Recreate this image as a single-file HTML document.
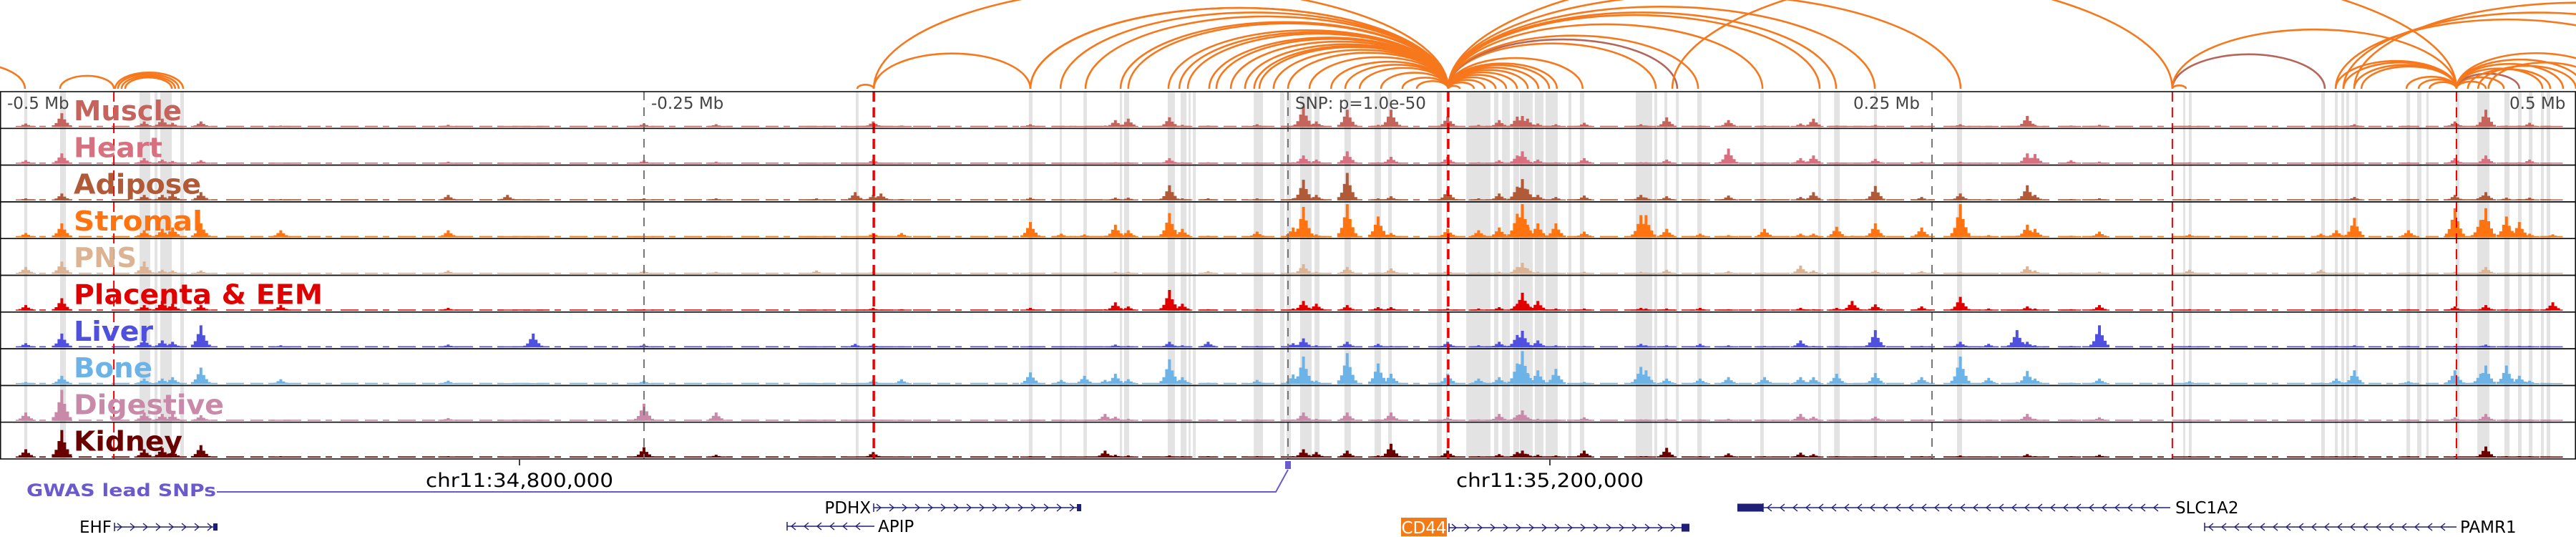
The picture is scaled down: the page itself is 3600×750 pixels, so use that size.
<!DOCTYPE html>
<html><head><meta charset="utf-8"><style>
html,body{margin:0;padding:0;background:#fff;width:3600px;height:750px;overflow:hidden}
svg{display:block}
text{font-family:"DejaVu Sans","Liberation Sans",sans-serif}
</style></head><body>
<svg id="fig" xmlns="http://www.w3.org/2000/svg" width="3600" height="750" viewBox="0 0 3600 750">
<g id="arcs"></g>
<g id="bands"></g>
<g id="signals"></g>
<g id="marks"></g>
<g id="frames"></g>
<g id="labels"></g>
<g id="scale">
<text x="10" y="152" font-size="23" fill="#444">-0.5 Mb</text>
<text x="910" y="152" font-size="23" fill="#444">-0.25 Mb</text>
<text x="1810" y="152" font-size="23" fill="#444">SNP: p=1.0e-50</text>
<text x="2590" y="152" font-size="23" fill="#444">0.25 Mb</text>
<text x="3507" y="152" font-size="23" fill="#444">0.5 Mb</text>
</g>
<g id="coords">
<line x1="726" y1="642" x2="726" y2="650" stroke="#000" stroke-width="1.5"/>
<text x="726" y="680" font-size="27" text-anchor="middle" textLength="262" lengthAdjust="spacingAndGlyphs">chr11:34,800,000</text>
<line x1="2166" y1="642" x2="2166" y2="650" stroke="#000" stroke-width="1.5"/>
<text x="2166" y="680" font-size="27" text-anchor="middle" textLength="262" lengthAdjust="spacingAndGlyphs">chr11:35,200,000</text>
</g>
<g id="gwas">
<text x="37" y="693" font-size="24" font-weight="bold" fill="#6a5acd" textLength="265" lengthAdjust="spacingAndGlyphs">GWAS lead SNPs</text>
<polyline points="303,687 1783,687 1800,656" fill="none" stroke="#6a5acd" stroke-width="2"/>
<rect x="1796" y="644" width="8" height="11" fill="#6a5acd"/>
</g>
<g id="genes"></g>
</svg>
<script>
// ---- data (window coordinates in kb, 0..1000 across the view) ----
const tissueNames = ['Muscle','Heart','Adipose','Stromal','PNS','Placenta & EEM','Liver','Bone','Digestive','Kidney'];
const tissueColors = ['#c4645c','#d8707f','#b05a38','#ff7410','#dcb494','#e00000','#4f4fe0','#6cb4e8','#c88aa8','#6a0000'];
const labelWidths = [151,124,178,180,88,348,111,110,210,152];
const peakPos = [10,24,56,63,67,78,109,174,197,207,250,278,317,332,339,342,350,400,412,421,429,433,438,454,459,469,488,502,506,511,523,535,540,562,574,582,589,591,593,597,604,615,637,639,647,660,671,685,699,704,713,719,728,746,761,772,783,787,790,804,815,850,901,907,914,935,953,963,965,973,978,982,991];
const muscleSignal =   [5,20,8,12,6,8,2,3,1,1,5,4,1,1,8,1,2,4,1,1,2,10,12,14,3,2,4,2,30,8,25,3,25,15,3,10,15,16,12,5,4,6,4,2,14,2,10,2,5,12,2,1,3,2,4,1,1,16,3,2,3,2,1,2,4,2,8,2,25,2,2,6,1];
const heartSignal =    [5,15,8,6,4,5,1,3,1,1,5,3,1,1,6,1,1,1,1,1,1,2,2,8,2,2,2,2,12,6,18,2,10,10,2,5,12,18,5,6,2,8,2,2,6,2,22,2,8,12,2,1,7,3,3,1,1,15,14,5,3,2,1,2,2,2,8,2,12,2,2,6,1];
const adiposeSignal =  [3,10,8,8,10,12,2,8,8,1,3,3,3,12,8,10,2,4,1,1,1,4,4,22,3,3,3,3,30,8,40,3,6,15,3,10,20,31,16,8,5,7,8,4,6,2,7,2,5,12,2,1,21,5,10,2,1,22,8,2,3,2,1,2,5,2,8,5,12,4,2,4,1];
const stromalSignal =  [6,20,10,12,14,20,10,10,1,1,2,1,1,1,6,1,6,22,5,4,2,18,10,35,12,2,8,14,44,4,48,30,6,12,10,14,34,48,18,20,20,8,32,32,12,5,3,12,5,5,15,2,20,14,48,3,2,18,12,2,8,4,5,10,28,10,42,25,42,30,22,5,4];
const pnsSignal =      [10,18,18,6,5,5,1,5,1,1,5,3,5,1,3,1,1,2,1,1,1,3,3,2,2,4,2,2,14,3,10,2,8,5,2,3,10,16,8,3,2,3,3,2,6,2,4,2,12,5,2,1,5,4,3,1,1,11,5,2,3,6,6,2,2,2,3,2,10,2,2,2,1];
const placentaSignal = [8,18,8,14,10,8,8,4,1,1,2,1,1,1,4,1,2,4,1,1,2,12,6,30,10,2,2,3,14,10,8,5,5,3,3,5,10,26,10,14,3,3,4,3,3,4,2,2,4,2,4,14,9,6,20,3,1,6,3,2,8,2,1,2,2,2,6,2,8,2,2,2,12];
const liverSignal =    [6,20,12,10,8,32,3,4,1,20,4,1,1,5,4,1,1,2,1,1,1,4,2,8,3,8,2,6,13,3,8,5,2,8,3,8,18,24,6,10,3,2,5,3,3,5,3,2,10,2,2,1,25,2,8,5,25,8,3,2,32,2,1,2,3,2,2,2,4,2,2,2,1];
const boneSignal =     [3,12,8,8,10,24,7,5,1,1,5,1,1,1,6,1,7,17,6,12,6,15,7,36,10,2,6,14,40,5,45,30,15,15,8,10,30,48,16,20,22,3,25,20,8,8,10,10,10,10,15,1,16,10,40,9,3,19,8,2,8,4,2,8,20,4,20,15,27,27,12,5,1];
const digestiveSignal =[12,45,12,10,10,8,1,4,1,1,25,12,1,1,3,1,1,2,1,1,10,6,3,2,2,2,2,2,12,3,12,2,12,5,2,10,8,15,5,3,2,5,2,2,3,2,3,2,10,6,2,1,6,2,3,1,1,10,3,2,5,2,1,2,2,2,5,2,10,2,2,2,1];
const kidneySignal =   [12,40,12,14,10,18,2,2,1,1,15,4,1,1,8,1,1,2,1,1,10,4,3,3,2,2,2,2,12,8,10,3,20,10,2,5,8,10,5,4,3,10,2,2,14,2,6,2,7,5,2,1,2,2,3,1,1,5,2,2,4,2,1,2,2,2,2,2,16,2,2,2,1];
const bandStarts = [9.4,23.3,54.2,60,62.2,70,332.2,399.4,411.4,420.6,434.7,436.4,453.3,458.3,461.4,463.1,486.7,496.9,499.4,504.7,510.3,521.9,533.6,538.9,557.8,561.4,569.2,580,583.1,587.5,590,595.8,600,608.9,613.3,635,642.2,646.1,650.6,658.9,683.3,705.8,712,727.5,759.7,847.5,849.7,901.1,906.4,908.9,910.8,914.2,934.2,938.3,941.9,953.3,961.7,972.2,977.5,981.7,986.4,988.6];
const bandEnds =   [10.6,25.6,58.3,61.1,66.7,71.4,333.3,400.8,412.2,421.9,435.6,438.3,456.1,460.6,462.2,464.2,490.3,498.6,501.1,509.2,512.2,524.4,536.1,540.3,559.7,562,578.6,581.7,586.1,589.7,595,599.2,604.7,610,615,641.4,643.3,647.2,651.7,660.6,684.7,706.9,714.2,728.6,761.7,848.3,850.8,902.5,907.5,910,911.9,915.3,935.6,940,942.8,954.7,966.4,974.2,978.9,983.1,987.5,990];
const leadSnpPos = [44.2,339.2,562.2,843.3,953.6];
const leadSnpWidth = [2,3.5,3.5,2,2];
const scaleTickPos = [250,500,750];
const arcStarts = [339.2,400,411.7,421.4,435,438,453.6,457.8,461.1,469.4,472.2,477.8,483.3,486.9,488.9,494.4,500,508.3,516.7,522.2,527.8,536.1,544.4,550,
  562.2,562.2,562.2,562.2,562.2,562.2,562.2,562.2,562.2,562.2,562.2,562.2,562.2,562.2,562.2,562.2,562.2,562.2,562.2,562.2,
  649.2,843.3,843.3,843.3,339.2,400,332.8,23.3,44.7,45.8,47.2,48.6,-33.3,
  906.7,909.7,913.9,916.7,934.2,938.9,943.1,953.6,953.6,953.6,953.6,953.6,953.6,953.6,906.7,909.7,913.9,958,962,966];
const arcEnds = [562.2,562.2,562.2,562.2,562.2,562.2,562.2,562.2,562.2,562.2,562.2,562.2,562.2,562.2,562.2,562.2,562.2,562.2,562.2,562.2,562.2,562.2,562.2,562.2,
  566.7,572.2,576.4,580.6,584.7,588.9,593.1,597.2,601.4,604.4,614.4,642.8,651.1,659.2,684.2,706.4,712.8,727.8,761.1,843.3,
  953.6,902.5,953.6,848.6,400,562.2,339.2,44.2,71.1,69.4,68,66.7,9.7,
  953.6,953.6,953.6,953.6,953.6,953.6,953.6,965,972,978,987,995,1003,1015,1040,1060,1090,990,1000,1010];
const arcBrown = [651.1,902.5,978,1015,727.8,339.2];

// ---- scales ----
const X0 = 0, PXPERKB = 3.6;
function xScale(kb){ return X0 + kb*PXPERKB; }
const TRACK_TOP = 128, TRACK_H = 51.3, SIGMAX = 50, SIGPX = 48;
function yScale(v, i){ return TRACK_TOP + (i+1)*TRACK_H - 2 - v*SIGPX/SIGMAX; }
const ARC_BASE = 124;
const NS = 'http://www.w3.org/2000/svg';
function mk(tag, attrs, parent){ const e=document.createElementNS(NS,tag); for(const k in attrs) e.setAttribute(k,attrs[k]); parent.appendChild(e); return e; }

// arcs
const gA = document.getElementById('arcs');
for(let i=0;i<arcStarts.length;i++){
  const x1=xScale(arcStarts[i]), x2=xScale(arcEnds[i]);
  const w=x2-x1, rx=w/2, ry=w*0.25/(1+w/2000);
  const brown = arcBrown.indexOf(arcEnds[i])>=0 && i%3===0;
  const p=mk('path',{d:`M${x1},${ARC_BASE} A${rx},${ry} 0 0 1 ${x2},${ARC_BASE}`,fill:'none',stroke:brown?'#b5655a':'#f7781c','stroke-width':2.6},gA);
  
  
}

// bands
const gB = document.getElementById('bands');
for(let i=0;i<bandStarts.length;i++){
  const r=mk('rect',{x:xScale(bandStarts[i]),y:TRACK_TOP,width:Math.max(1.5,xScale(bandEnds[i])-xScale(bandStarts[i])),height:TRACK_H*10,fill:'#e3e3e3'},gB);
  
  
}

// signals
const allSignals=[muscleSignal,heartSignal,adiposeSignal,stromalSignal,pnsSignal,placentaSignal,liverSignal,boneSignal,digestiveSignal,kidneySignal];
const gS=document.getElementById('signals');
const offs=[-12,-8,-4,0,4,8,12], fr=[0.12,0.28,0.6,1,0.55,0.3,0.12];
for(let t=0;t<10;t++){
  const g=mk('g',{fill:tissueColors[t]},gS);
  
  
  const base=yScale(0,t);
  const bl=mk('line',{x1:30,y1:base-0.8,x2:3565,y2:base-0.8,stroke:tissueColors[t],'stroke-width':1.6,'stroke-dasharray':'18 7 9 12 25 9'},g);
  
  
  const sig=allSignals[t];
  for(let k=0;k<peakPos.length;k++){
    const v=sig[k]; const cx=xScale(peakPos[k]);
    let d='';
    for(let j=0;j<offs.length;j++){
      const h=Math.max(1.5, v*fr[j]);
      const y=yScale(h,t);
      d+=`M${cx+offs[j]-2},${base}V${y}H${cx+offs[j]+2}V${base}Z`;
    }
    const p=mk('path',{d:d},g);
    
    
  }
}

// lead SNP lines and scale ticks
const gM=document.getElementById('marks');
for(let i=0;i<scaleTickPos.length;i++){
  const l=mk('line',{x1:xScale(scaleTickPos[i]),y1:TRACK_TOP,x2:xScale(scaleTickPos[i]),y2:TRACK_TOP+TRACK_H*10,stroke:'#777','stroke-width':2,'stroke-dasharray':'12 10'},gM);
  
  
}
for(let i=0;i<leadSnpPos.length;i++){
  const l=mk('line',{x1:xScale(leadSnpPos[i]),y1:TRACK_TOP,x2:xScale(leadSnpPos[i]),y2:TRACK_TOP+TRACK_H*10,stroke:'#ee0000','stroke-width':leadSnpWidth[i],'stroke-dasharray':'14 8'},gM);
  
  
}

// frames
const gF=document.getElementById('frames');
for(let t=0;t<10;t++){
  const r=mk('rect',{x:0.75,y:TRACK_TOP+t*TRACK_H,width:3598.5,height:TRACK_H,fill:'none',stroke:'#111','stroke-width':1.6},gF);
  
  
}

// labels
const gL=document.getElementById('labels');
for(let t=0;t<10;t++){
  const tx=mk('text',{x:103,y:TRACK_TOP+t*TRACK_H+40,'font-size':38,'font-weight':'bold',fill:tissueColors[t],textLength:labelWidths[t],lengthAdjust:'spacingAndGlyphs'},gL);
  tx.textContent=tissueNames[t];
  
  
}

// genes
const gG=document.getElementById('genes');
const NAVY='#1f1f78';
function gene(name,x1,x2,y,dir,labelSide,box){
  const g=mk('g',{},gG);
  
  
  mk('line',{x1:x1,y1:y,x2:x2,y2:y,stroke:NAVY,'stroke-width':1.6},g);
  for(let x=x1+8;x<x2-6;x+=18){
    const pts = dir>0 ? `${x-4},${y-5} ${x+2},${y} ${x-4},${y+5}` : `${x+4},${y-5} ${x-2},${y} ${x+4},${y+5}`;
    mk('polyline',{points:pts,fill:'none',stroke:NAVY,'stroke-width':1.4},g);
  }
  mk('line',{x1:x1,y1:y-6,x2:x1,y2:y+6,stroke:NAVY,'stroke-width':1.5},g);
  if(box) mk('rect',{x:box[0],y:y-box[2]/2,width:box[1]-box[0],height:box[2],fill:NAVY},g);
  if(name){
    const t=mk('text',{x:labelSide==='left'?x1-4:x2+5,y:y+8,'font-size':23,'text-anchor':labelSide==='left'?'end':'start'},g);
    t.textContent=name;
  }
}
gene('PDHX',1221,1510,709,1,'left',[1505,1511,10]);
gene('APIP',1100,1222,735,-1,'right',null);
gene('EHF',160,304,736,1,'left',[298,304,10]);
gene('',2464,3033,709,-1,'right',[2428,2464,11]);
const sl=mk('text',{x:3040,y:717,'font-size':23},gG); sl.textContent='SLC1A2';


gene('PAMR1',3081,3433,736,-1,'right',null);
gene('',2025,2360,737,1,'right',[2350,2361,11]);
const cb=mk('rect',{x:1958,y:723,width:64,height:26,fill:'#f57a14'},gG);


const ct=mk('text',{x:1990,y:745,'font-size':23,fill:'#fff','text-anchor':'middle'},gG); ct.textContent='CD44';


</script>
</body></html>
